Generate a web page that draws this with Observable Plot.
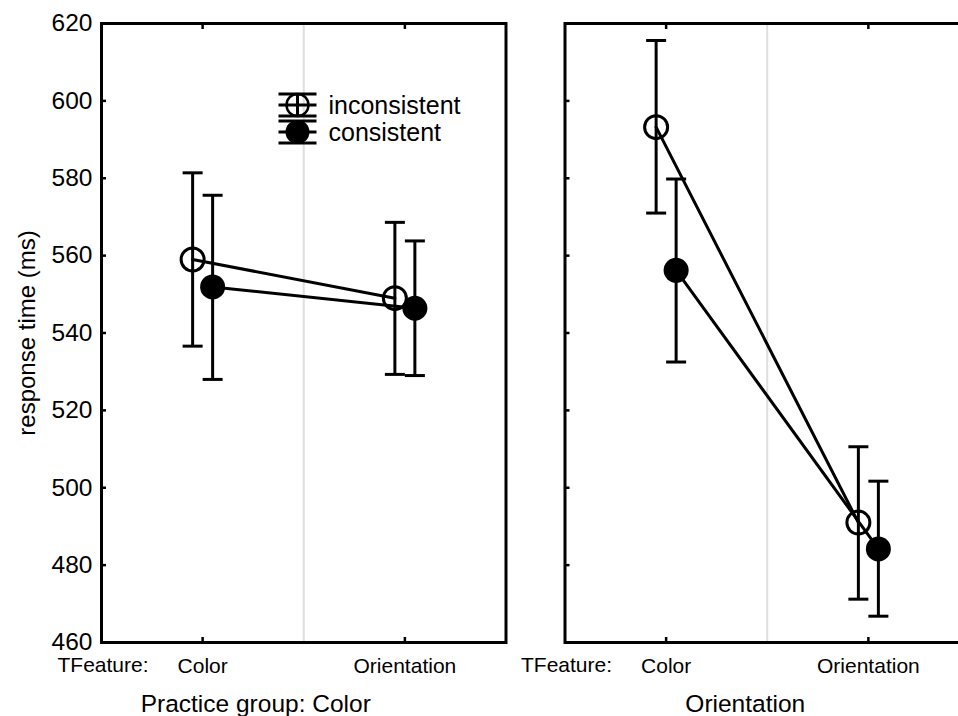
<!DOCTYPE html>
<html><head><meta charset="utf-8">
<script src="https://cdn.jsdelivr.net/npm/d3@7"></script>
<script src="https://cdn.jsdelivr.net/npm/@observablehq/plot@0.6"></script>
<style>
html,body{margin:0;padding:0;background:#fff;overflow:hidden;}
#wrap{position:relative;width:958px;height:716px;overflow:hidden;background:#fff;}
#wrap svg{max-width:none !important;}
</style></head><body><div id="wrap"></div>
<script>
const practiceGroups = ["Color", "Orientation"];
const groupLabels = ["Practice group: Color", "Orientation"];
const targetFeatures = ["Color", "Orientation"];
const conditions = ["inconsistent", "consistent"];
// indexed [practice group][target feature]
const inconsistentMean = [[559.0, 549.0], [593.2, 491.0]];
const inconsistentLow  = [[536.6, 529.3], [571.0, 471.2]];
const inconsistentHigh = [[581.4, 568.6], [615.6, 510.6]];
const consistentMean   = [[551.9, 546.4], [556.2, 484.2]];
const consistentLow    = [[528.0, 529.0], [532.5, 466.8]];
const consistentHigh   = [[575.6, 563.8], [579.8, 501.7]];
const yTicks = [460, 480, 500, 520, 540, 560, 580, 600, 620];
const yLabel = "response time (ms)";
const xAxisTitle = "TFeature:";

const series = {
  inconsistent: {mean: inconsistentMean, lo: inconsistentLow, hi: inconsistentHigh},
  consistent: {mean: consistentMean, lo: consistentLow, hi: consistentHigh}
};
function rowsFor(c) {
  const out = [];
  practiceGroups.forEach((g, gi) => targetFeatures.forEach((f, fi) => {
    out.push({condition: c, group: g, feature: fi,
      mean: series[c].mean[gi][fi], lo: series[c].lo[gi][fi], hi: series[c].hi[gi][fi]});
  }));
  return out;
}
const capSymbol = {draw(ctx) { ctx.moveTo(-10, 0); ctx.lineTo(10, 0); }};
const offsets = {inconsistent: -10, consistent: 10};
const font = "'Liberation Sans', Arial, Helvetica, sans-serif";

const dataMarks = [];
for (const c of conditions) {
  const rows = rowsFor(c);
  const dx = offsets[c];
  dataMarks.push(Plot.ruleX(rows, {x: "feature", y1: "lo", y2: "hi", fx: "group", dx, stroke: "black", strokeWidth: 3}));
  dataMarks.push(Plot.dot(rows, {x: "feature", y: "lo", fx: "group", dx, symbol: capSymbol, stroke: "black", strokeWidth: 3}));
  dataMarks.push(Plot.dot(rows, {x: "feature", y: "hi", fx: "group", dx, symbol: capSymbol, stroke: "black", strokeWidth: 3}));
}
for (const c of conditions) {
  dataMarks.push(Plot.line(rowsFor(c), {x: "feature", y: "mean", fx: "group", dx: offsets[c], stroke: "black", strokeWidth: 3}));
}
dataMarks.push(Plot.dot(rowsFor("inconsistent"), {x: "feature", y: "mean", fx: "group", dx: offsets.inconsistent, r: 11.5, fill: "none", stroke: "black", strokeWidth: 3}));
dataMarks.push(Plot.dot(rowsFor("consistent"), {x: "feature", y: "mean", fx: "group", dx: offsets.consistent, r: 12.5, fill: "black", stroke: "none"}));

const chart = Plot.plot({
  width: 972, height: 716,
  marginLeft: 101, marginRight: 3, marginTop: 23, marginBottom: 74,
  style: {fontFamily: font, fontSize: "20px", color: "black", background: "white", overflow: "visible", maxWidth: "none"},
  fx: {domain: practiceGroups, paddingInner: 0.1273, paddingOuter: 0, round: false, axis: null, label: null},
  x: {domain: [-0.5, 1.5], label: null},
  y: {domain: [yTicks[0], yTicks[yTicks.length - 1]], label: null},
  marks: [
    Plot.ruleX([0.5], {stroke: "#dedede", strokeWidth: 2}),
    Plot.axisY({ticks: yTicks, tickSize: 0, tickPadding: 9, fontSize: 24.5, label: null, anchor: "left"}),
    Plot.axisY({ticks: yTicks, tickSize: -5, tickFormat: () => "", label: null, anchor: "left", facetAnchor: null, strokeWidth: 2.5}),
    Plot.axisX({ticks: [0, 1], tickSize: 0, tickPadding: 16, tickFormat: i => targetFeatures[i], fontSize: 21, label: null, anchor: "bottom"}),
    Plot.axisX({ticks: [0, 1], tickSize: -5, tickFormat: () => "", label: null, anchor: "bottom", strokeWidth: 2.5}),
    Plot.axisX({ticks: [0, 1], tickSize: -5, tickFormat: () => "", label: null, anchor: "top", strokeWidth: 2.5}),
    Plot.text(practiceGroups.map(g => ({group: g})), {fx: "group", text: () => xAxisTitle, frameAnchor: "bottom-left", dx: -44, dy: 23, textAnchor: "start", lineAnchor: "middle", fontSize: 21}),
    Plot.text([{group: practiceGroups[0], label: yLabel}], {fx: "group", text: "label", frameAnchor: "left", dx: -74, rotate: -90, textAnchor: "middle", lineAnchor: "middle", fontSize: 24}),
    Plot.text([{group: practiceGroups[0], label: groupLabels[0]}], {fx: "group", text: "label", frameAnchor: "bottom", dx: -48, dy: 62, textAnchor: "middle", lineAnchor: "middle", fontSize: 24.5}),
    Plot.text([{group: practiceGroups[1], label: groupLabels[1]}], {fx: "group", text: "label", frameAnchor: "bottom", dx: -22, dy: 62, textAnchor: "middle", lineAnchor: "middle", fontSize: 24.5}),
    ...dataMarks,
    Plot.frame({stroke: "black", strokeWidth: 3})
  ]
});
document.getElementById("wrap").appendChild(chart);

// legend (layout overlay, built from the conditions list)
const svg = d3.select(chart);
const legendCy = [105, 132];
const lg = svg.append("g").attr("transform", "translate(297.5,0)");
conditions.forEach((c, i) => {
  const cy = legendCy[i];
  const g = lg.append("g").attr("stroke", "black").attr("stroke-width", 3);
  g.append("line").attr("x1", -19).attr("x2", 19).attr("y1", cy).attr("y2", cy);
  g.append("line").attr("x1", 0).attr("x2", 0).attr("y1", cy - 11).attr("y2", cy + 11);
  g.append("line").attr("x1", -19).attr("x2", 19).attr("y1", cy - 11).attr("y2", cy - 11);
  g.append("line").attr("x1", -19).attr("x2", 19).attr("y1", cy + 11).attr("y2", cy + 11);
  if (c === "inconsistent") {
    g.append("circle").attr("cx", 0).attr("cy", cy).attr("r", 11).attr("fill", "none").attr("stroke-width", 2.5);
  } else {
    g.append("circle").attr("cx", 0).attr("cy", cy).attr("r", 12).attr("fill", "black").attr("stroke", "none");
  }
  lg.append("text").attr("x", 31).attr("y", cy + 9).attr("font-size", 25).attr("font-family", font)
    .attr("text-anchor", "start").attr("fill", "black").text(c);
});
</script></body></html>
